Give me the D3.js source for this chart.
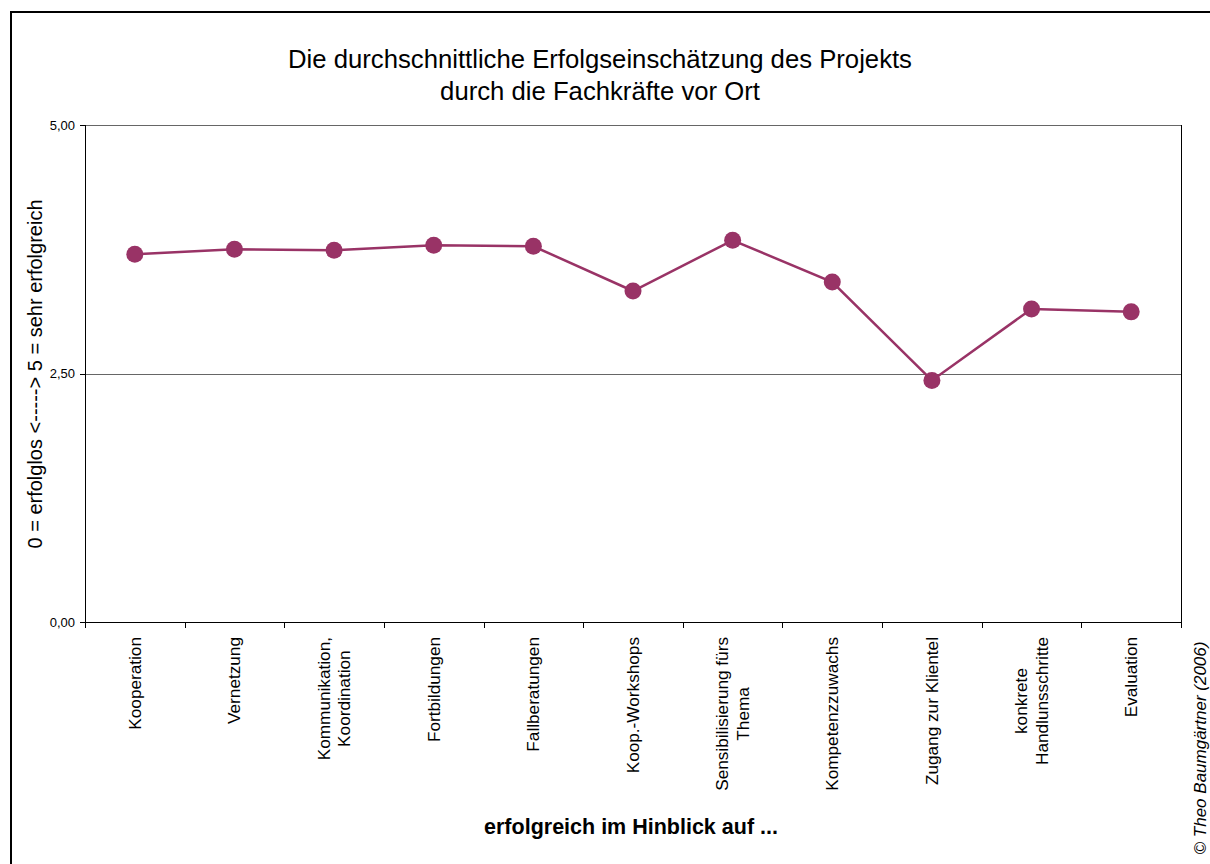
<!DOCTYPE html>
<html>
<head>
<meta charset="utf-8">
<script src="https://cdn.jsdelivr.net/npm/d3@7"></script>
<style>
  body { margin: 0; background: #fff; }
  svg { display: block; font-family: "Liberation Sans", Arial, sans-serif; }
  .axis path, .axis line { stroke: #000; shape-rendering: crispEdges; }
  .axis text { font-size: 13px; fill: #000; }
</style>
</head>
<body>
<svg width="1210" height="864"></svg>
<script>
const categories = [
  "Kooperation", "Vernetzung", "Kommunikation,\nKoordination", "Fortbildungen",
  "Fallberatungen", "Koop.-Workshops", "Sensibilisierung fürs\nThema",
  "Kompetenzzuwachs", "Zugang zur Klientel", "konkrete\nHandlunsschritte", "Evaluation"
];
const values = [3.70, 3.75, 3.74, 3.79, 3.78, 3.33, 3.84, 3.42, 2.43, 3.15, 3.12];
const yTicks = [0, 2.5, 5];
const titleLines = ["Die durchschnittliche Erfolgseinschätzung des Projekts", "durch die Fachkräfte vor Ort"];

const svg = d3.select("svg");
const margin = {top: 125, left: 85, right: 1181, bottom: 622};
const color = "#993366";

// outer frame, runs off the right and bottom edge like in the original
svg.append("rect")
  .attr("x", 11).attr("y", 12)
  .attr("width", 1240).attr("height", 900)
  .attr("fill", "none").attr("stroke", "#000").attr("stroke-width", 2);

svg.append("g").selectAll("text")
  .data(titleLines)
  .join("text")
    .attr("x", 600)
    .attr("y", (d, i) => 68 + i * 32)
    .attr("text-anchor", "middle")
    .attr("font-size", "25.7px")
    .text(d => d);

const x = d3.scaleBand()
  .domain(categories)
  .range([margin.left, margin.right]);
const xEdge = d3.scaleLinear()
  .domain([0, categories.length])
  .range([margin.left, margin.right]);
const y = d3.scaleLinear()
  .domain([0, 5])
  .range([margin.bottom, margin.top]);

// gridlines
svg.append("g").selectAll("line")
  .data(yTicks.filter(d => d > 0))
  .join("line")
    .attr("x1", margin.left).attr("x2", margin.right)
    .attr("y1", d => Math.round(y(d)) + 0.5).attr("y2", d => Math.round(y(d)) + 0.5)
    .attr("stroke", "#666");

// right border of plot
svg.append("line")
  .attr("x1", margin.right + 0.5).attr("x2", margin.right + 0.5)
  .attr("y1", margin.top).attr("y2", margin.bottom)
  .attr("stroke", "#000");

svg.append("g")
  .attr("class", "axis")
  .attr("transform", "translate(" + margin.left + ",0)")
  .call(d3.axisLeft(y).tickValues(yTicks).tickSize(5).tickPadding(5)
    .tickFormat(d => d3.format(".2f")(d).replace(".", ",")))
  .call(g => g.select(".domain").attr("d", "M0.5," + margin.top + "V" + margin.bottom));

svg.append("g")
  .attr("class", "axis")
  .attr("transform", "translate(0," + margin.bottom + ")")
  .call(d3.axisBottom(xEdge).tickValues(d3.range(categories.length + 1)).tickSize(6).tickFormat(""))
  .call(g => g.select(".domain").attr("d", "M" + margin.left + ",0.5H" + margin.right));

// category labels, rotated, block top-aligned under the axis
const labelSize = 17.2, lineH = 20.5;
const lab = svg.append("g").selectAll("g")
  .data(categories)
  .join("g")
    .attr("transform", d => "translate(" + (x(d) + x.bandwidth() / 2) + ",637) rotate(-90)")
    .attr("font-size", labelSize + "px");
lab.each(function(d) {
  const g = d3.select(this);
  const lines = d.split("\n");
  const texts = g.selectAll("text")
    .data(lines)
    .join("text")
      .attr("text-anchor", "middle")
      .attr("y", (l, i) => (i - (lines.length - 1) / 2) * lineH + labelSize * 0.35)
      .text(l => l);
  let w = 0;
  texts.each(function() { w = Math.max(w, this.getComputedTextLength()); });
  texts.attr("x", -w / 2);
});

// series
const line = d3.line()
  .x((d, i) => x(categories[i]) + x.bandwidth() / 2)
  .y(d => y(d));
svg.append("path")
  .datum(values)
  .attr("fill", "none")
  .attr("stroke", color)
  .attr("stroke-width", 2.5)
  .attr("d", line);
svg.append("g").selectAll("circle")
  .data(values)
  .join("circle")
    .attr("cx", (d, i) => x(categories[i]) + x.bandwidth() / 2)
    .attr("cy", d => y(d))
    .attr("r", 8.5)
    .attr("fill", color);

// axis titles
svg.append("text")
  .attr("transform", "translate(42,374) rotate(-90)")
  .attr("text-anchor", "middle")
  .attr("font-size", "20px")
  .text("0 = erfolglos <-----> 5 = sehr erfolgreich");

svg.append("text")
  .attr("x", 631).attr("y", 834)
  .attr("text-anchor", "middle")
  .attr("font-size", "21.5px")
  .attr("font-weight", "bold")
  .text("erfolgreich im Hinblick auf ...");

svg.append("text")
  .attr("transform", "translate(1206,748) rotate(-90)")
  .attr("text-anchor", "middle")
  .attr("font-size", "17px")
  .attr("font-style", "italic")
  .text("© Theo Baumgärtner (2006)");
</script>
</body>
</html>
